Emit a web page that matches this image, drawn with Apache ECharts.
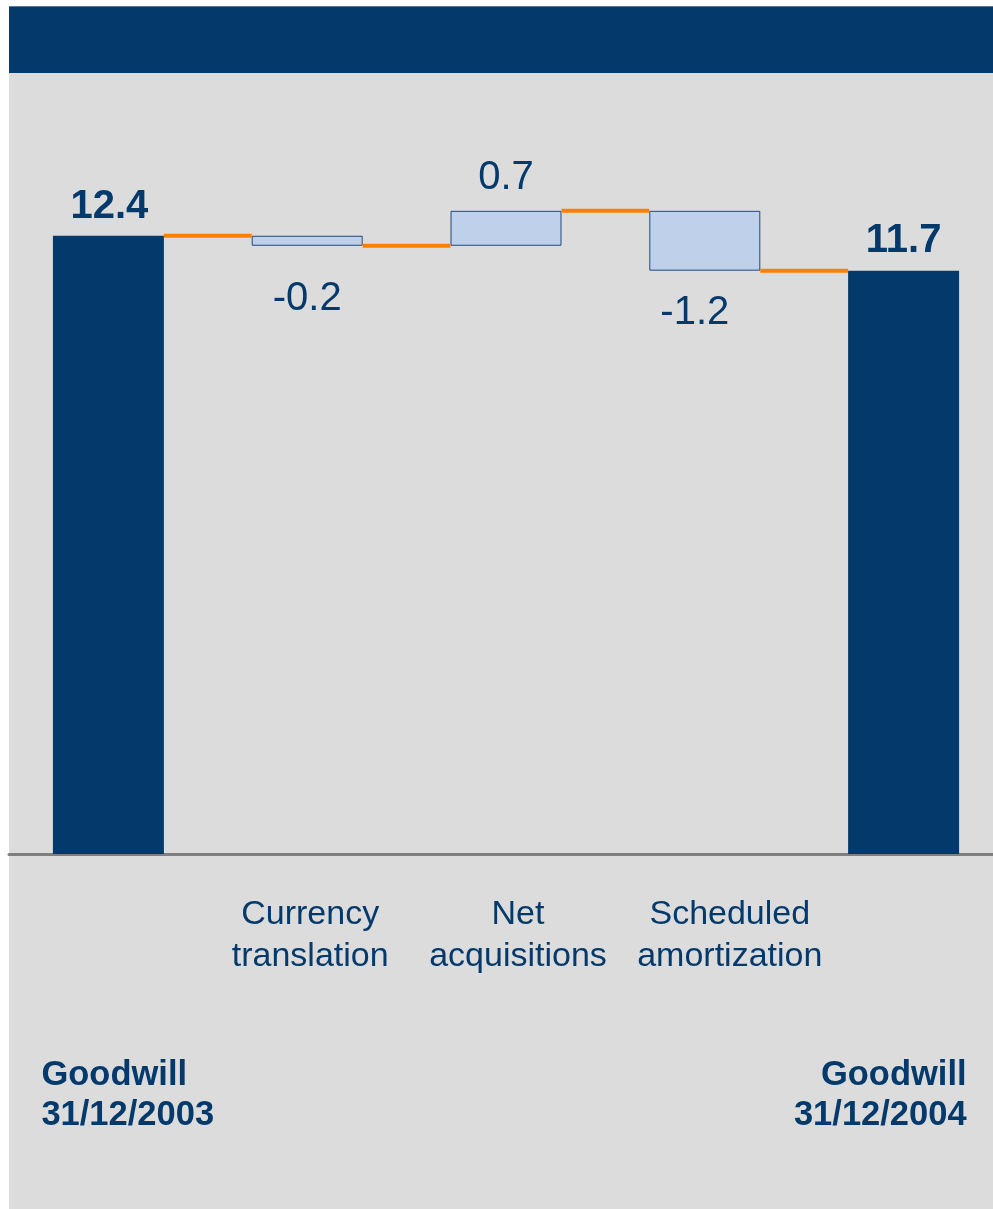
<!DOCTYPE html>
<html>
<head>
<meta charset="utf-8">
<title>Goodwill development</title>
<script src="https://cdn.jsdelivr.net/npm/echarts@6/dist/echarts.min.js"></script>
<style>
  html, body { margin: 0; padding: 0; background: #ffffff; overflow: hidden; }
  #wrap { position: relative; width: 993px; height: 1209px; overflow: hidden; }
  #panel { position: absolute; left: 9px; top: 6px; width: 984px; height: 1203px; background: #dcdcdc; }
  #band { position: absolute; left: 9px; top: 6px; width: 984px; height: 67px; background: #023a6b; border-top: 1px solid #5a7795; box-sizing: border-box; }
  /* the plot runs a little past the right edge, so the canvas is wider than the frame */
  #chart { position: absolute; left: 0; top: 0; width: 1012px; height: 1209px; }
</style>
</head>
<body>
<div id="wrap">
  <div id="panel"></div>
  <div id="band"></div>
  <div id="chart"></div>
</div>
<script>
// Goodwill bridge, EUR bn
const categories = ['Goodwill\n31/12/2003', 'Currency\ntranslation', 'Net\nacquisitions', 'Scheduled\namortization', 'Goodwill\n31/12/2004'];
const values = [12.4, -0.2, 0.7, -1.2, 11.7];
const isTotal = [true, false, false, false, true];

const NAVY = '#043a6b';
const BOX = '#bfd0ea';
const ORANGE = '#ff8000';
const FONT = "'Liberation Sans', Arial, Helvetica, sans-serif";
const BAR_W = 111;

// floating bar geometry: invisible base + visible height, plus the level after each step
const base = [];
const height = [];
const levels = [];
let running = 0;
values.forEach((v, i) => {
  if (isTotal[i]) {
    base.push(0);
    height.push(v);
    running = v;
  } else {
    const end = Math.round((running + v) * 10) / 10;
    base.push(Math.min(running, end));
    height.push(Math.abs(v));
    running = end;
  }
  levels.push(running);
});

// label placement per bar
const labelPos = ['top', 'bottom', 'top', 'bottom', 'top'];
const labelDist = [9, 33, 13, 22, 10];
const labelShift = [[1, 0], [0, 0], [0, 0], [-10, 0], [0, 0]];

const fmt = (v, total) => {
  if (total) return v.toFixed(1);
  return (v < 0 ? '-' : '') + Math.abs(v).toFixed(1);
};

const chart = echarts.init(document.getElementById('chart'), null, { renderer: 'canvas' });

chart.setOption({
  backgroundColor: 'transparent',
  animation: false,
  grid: { left: 9, width: 994, top: 156, bottom: 355, containLabel: false },
  xAxis: {
    type: 'category',
    data: categories,
    axisLine: { show: true, lineStyle: { color: '#7f7f7f', width: 3 } },
    axisTick: { show: false },
    axisLabel: { show: false },
    splitLine: { show: false }
  },
  yAxis: {
    type: 'value',
    min: 0,
    max: 14,
    show: false,
    splitLine: { show: false }
  },
  series: [
    {
      name: 'base',
      type: 'bar',
      stack: 'wf',
      barWidth: BAR_W,
      silent: true,
      itemStyle: { color: 'transparent' },
      data: base
    },
    {
      name: 'value',
      type: 'bar',
      stack: 'wf',
      barWidth: BAR_W,
      data: height.map((h, i) => ({
        value: h,
        itemStyle: isTotal[i]
          ? { color: NAVY, borderWidth: 0 }
          : { color: BOX, borderColor: '#1f4a7c', borderWidth: 1 },
        label: {
          show: true,
          position: labelPos[i],
          distance: labelDist[i],
          offset: labelShift[i],
          formatter: fmt(values[i], isTotal[i]),
          color: NAVY,
          fontFamily: FONT,
          fontSize: 40,
          fontWeight: isTotal[i] ? 'bold' : 'normal'
        }
      }))
    },
    {
      name: 'connector',
      type: 'custom',
      silent: true,
      z: 3,
      data: levels.slice(0, -1).map((lv, i) => [i, lv]),
      renderItem: (params, api) => {
        const i = api.value(0);
        const lv = api.value(1);
        const a = api.coord([i, lv]);
        const b = api.coord([i + 1, lv]);
        return {
          type: 'line',
          shape: { x1: a[0] + BAR_W / 2, y1: a[1], x2: b[0] - BAR_W / 2, y2: b[1] },
          style: { stroke: ORANGE, lineWidth: 4 }
        };
      }
    }
  ]
});

// category captions below the axis, placed from the axis positions
const textItems = [];
categories.forEach((c, i) => {
  const px = chart.convertToPixel({ xAxisIndex: 0 }, i);
  if (isTotal[i]) {
    const first = i === 0;
    textItems.push({
      type: 'text',
      x: first ? px - 67 : px + 63,
      y: 1055,
      style: {
        text: c,
        font: 'bold 34.5px ' + FONT,
        lineHeight: 40,
        fill: NAVY,
        align: first ? 'left' : 'right',
        verticalAlign: 'top'
      }
    });
  } else {
    const shift = [0, 3, 12, 25][i];
    textItems.push({
      type: 'text',
      x: px + shift,
      y: 894,
      style: {
        text: c,
        font: '34px ' + FONT,
        lineHeight: 42,
        fill: NAVY,
        align: 'center',
        verticalAlign: 'top'
      }
    });
  }
});
chart.setOption({ graphic: textItems });
</script>
</body>
</html>
